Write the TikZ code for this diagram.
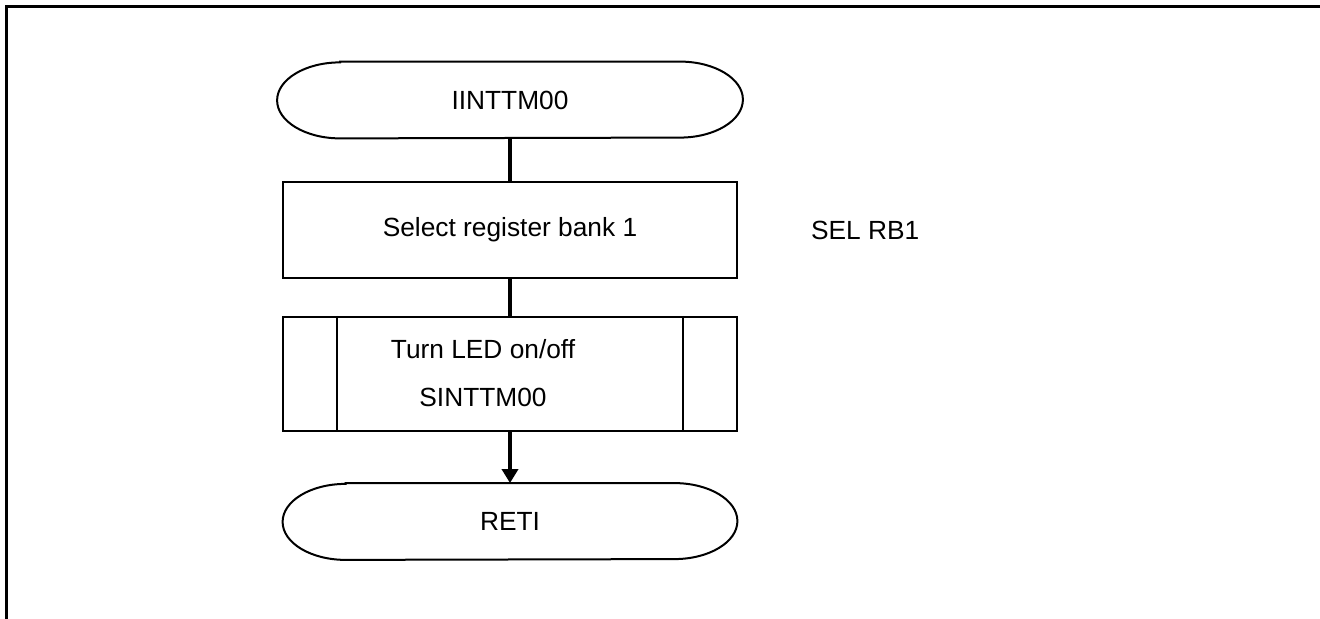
\documentclass[tikz,border=0pt]{standalone}
\usepackage{fontspec}
\setmainfont{Liberation Sans}
\usetikzlibrary{arrows.meta}

\begin{document}
\begin{tikzpicture}[x=0.5pt, y=0.5pt,
    every node/.style={font=\fontsize{13.15pt}{24.25pt}\selectfont},
    termbox/.style={minimum width=227pt, minimum height=38pt, inner sep=0pt},
    procbox/.style={draw, line width=1pt, minimum width=227pt, inner sep=0pt},
    shapeline/.style={line width=1pt},
    link/.style={line width=1.7pt},
  ]
  \def\rx{31.5pt}
  \def\ry{19pt}
  \useasboundingbox (0,0) rectangle (1320,619);
  %
  \draw[line width=1.5pt] (6,0) -- (6,612) -- (1320,612);   % frame
  %
  \node[termbox, minimum width=232.5pt] (start) at (510,519) {IINTTM00};
  \draw[shapeline] ([xshift=\rx]start.north west) -- ([xshift=-\rx]start.north east)
    arc[start angle=90, end angle=-90, x radius=\rx, y radius=\ry]
    -- ([xshift=\rx]start.south west)
    arc[start angle=270, end angle=90, x radius=\rx, y radius=\ry] -- cycle;
  %
  \node[procbox, minimum height=48pt] (sel) at (510,389) {Select register bank 1};
  \node[anchor=west] (selnote) at (804,389) {SEL RB1};
  %
  \node[procbox, minimum height=57pt] (led) at (510,245) {};
  \draw[shapeline] ([xshift=27.5pt]led.north west) -- ([xshift=27.5pt]led.south west);
  \draw[shapeline] ([xshift=-27.5pt]led.north east) -- ([xshift=-27.5pt]led.south east);
  \node[align=center] (ledtext) at (483,246) {Turn LED on/off\\SINTTM00};
  %
  \node[termbox] (reti) at (510,97.5) {RETI};
  \draw[shapeline] ([xshift=\rx]reti.north west) -- ([xshift=-\rx]reti.north east)
    arc[start angle=90, end angle=-90, x radius=\rx, y radius=\ry]
    -- ([xshift=\rx]reti.south west)
    arc[start angle=270, end angle=90, x radius=\rx, y radius=\ry] -- cycle;
  %
  \draw[link] (start.south) -- (sel.north);
  \draw[link] (sel.south) -- (led.north);
  \draw[link, -{Triangle[length=7pt, width=8pt]}] (led.south) -- (reti.north);
  %
\end{tikzpicture}
\end{document}
